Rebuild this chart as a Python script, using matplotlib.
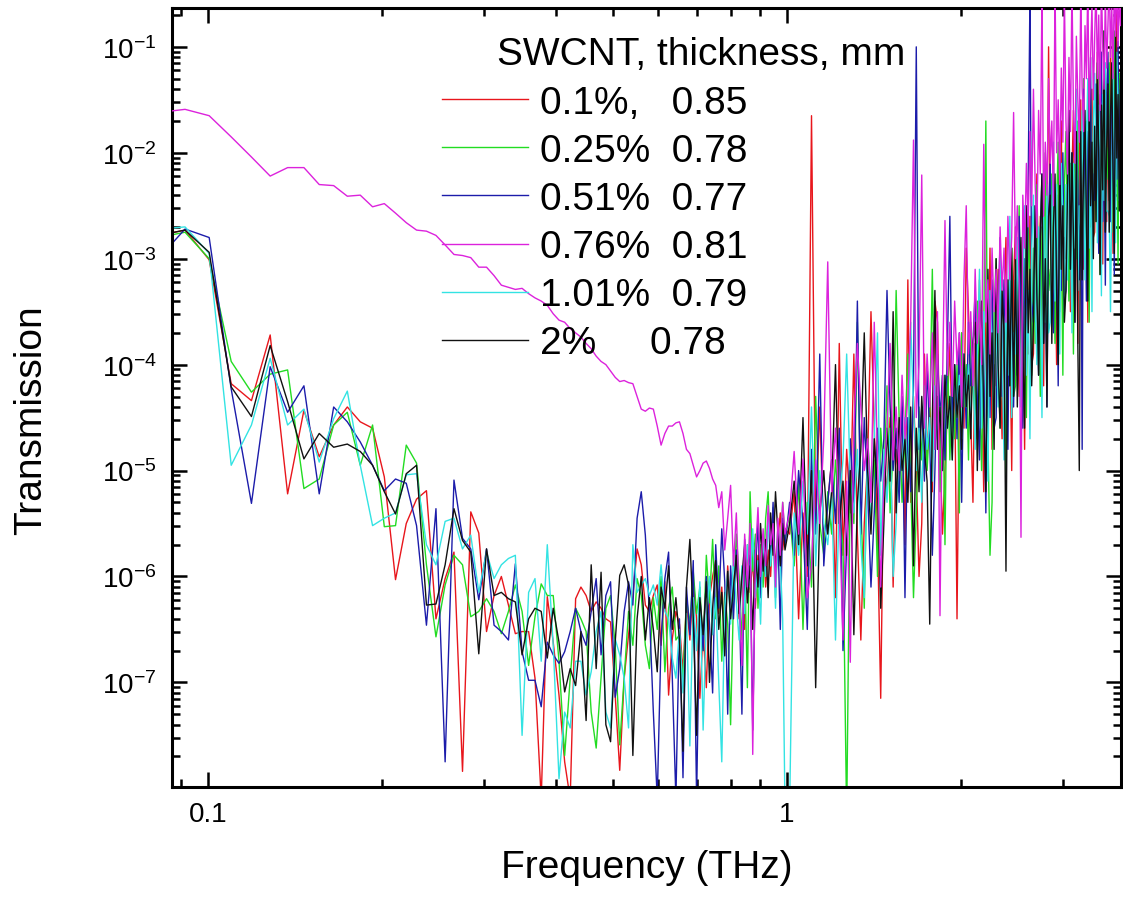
import numpy as np
import matplotlib
matplotlib.use('Agg')
import matplotlib.pyplot as plt
from matplotlib.ticker import (FixedLocator, FixedFormatter, LogLocator,
                               NullFormatter)

plt.rcParams['font.family'] = ['Liberation Sans', 'DejaVu Sans']
plt.rcParams['mathtext.fontset'] = 'custom'
plt.rcParams['mathtext.rm'] = 'Liberation Sans'
plt.rcParams['mathtext.it'] = 'Liberation Sans:italic'
plt.rcParams['mathtext.bf'] = 'Liberation Sans:bold'
plt.rcParams['axes.unicode_minus'] = False

# Spectra are sampled every 0.0092 THz below 1 THz; above 1 THz every
# second sample (0.0184 THz) is kept.
FREQ_LOW_START, FREQ_LOW_STEP = 0.0821, 0.0092
FREQ_HIGH_START, FREQ_HIGH_STEP = 1.0113, 0.0184

labels = ['0.1%,   0.85', '0.25%  0.78', '0.51%  0.77',
          '0.76%  0.81', '1.01%  0.79', '2%     0.78']
colors = ['#e8161c', '#22dc22', '#1c1caa', '#dc22dc', '#33e3e3', '#111111']
y_decades = [-7, -6, -5, -4, -3, -2, -1]

# log10(transmission)
red_low = [
    -2.78, -2.73, -3.01, -4.18, -4.34, -3.72, -5.22, -4.43, -4.87, -4.57,
    -4.40, -4.54, -4.60, -5.06, -6.03, -5.50, -5.27, -5.19, -6.40, -6.02,
    -5.77, -7.84, -5.39, -5.59, -6.52, -6.18, -6.00, -6.27, -6.54, -6.52,
    -6.52, -6.96, -8.10, -6.19, -6.62, -7.12, -7.75, -8.10, -6.21, -6.10,
    -6.18, -6.33, -6.24, -6.30, -6.40, -6.43, -7.12, -7.83, -6.96, -6.55,
    -6.18, -5.74, -5.89, -6.27, -6.33, -6.18, -6.08, -6.65, -6.05, -7.12,
    -6.59, -6.33, -6.45, -6.90, -6.25, -6.60, -6.05, -6.40, -7.15, -6.50,
    -7.05, -6.20, -6.00, -5.85, -6.35, -6.10, -6.55, -5.90, -6.30, -6.15,
    -5.75, -6.40, -5.95, -6.50, -5.70, -6.15, -5.85, -6.30, -5.80, -6.05,
    -5.60, -6.10, -5.75, -6.00, -5.50, -5.90, -5.65, -5.40, -5.75, -5.55]
red_high = [
    -5.6, -5.2, -6.4, -5.4, -6.0, -1.65, -5.5, -4.4, -5.7, -5.3,
    -4.9, -6.2, -3.8, -5.8, -4.8, -5.4, -3.9, -5.6, -6.6, -5.5,
    -4.9, -3.5, -4.6, -5.6, -7.15, -4.9, -5.2, -4.5, -6.1, -4.8,
    -5.1, -4.4, -5.7, -3.2, -5.3, -4.3, -5.0, -6.0, -5.5, -3.9,
    -4.9, -4.3, -5.2, -3.4, -3.6, -4.8, -5.6, -5.0, -4.4, -3.8,
    -4.7, -4.1, -6.4, -4.3, -3.7, -4.6, -2.9, -3.5, -4.5, -5.3,
    -3.8, -4.7, -3.2, -4.1, -5.2, -3.6, -4.4, -2.9, -4.8, -4.0,
    -4.2, -3.1, -3.9, -4.7, -3.4, -2.8, -4.4, -3.6, -5.0, -3.2,
    -2.7, -3.7, -4.3, -3.0, -3.4, -4.8, -2.9, -3.9, -2.6, -4.0,
    -3.9, -3.0, -2.2, -3.7, -2.6, -3.4, -4.2, -2.4, -2.9, -1.0,
    -2.6, -3.5, -2.0, -2.9, -4.0, -2.4, -3.2, -1.7, -3.6, -2.8,
    -3.0, -1.9, -2.7, -3.5, -2.2, -1.6, -3.2, -2.4, -3.8, -2.0,
    -1.5, -2.5, -3.1, -1.8, -2.2, -3.6, -1.7, -2.7, -1.4, -2.8,
    -2.75, -1.85, -1.05, -2.55, -1.45, -2.25, -3.05, -1.25, -1.75, -2.65,
    -1.55, -2.45, -0.95, -1.85, -2.95, -1.35, -2.15, -0.65, -2.55, -1.75,
    -1.2, -1.9]

green_low = [
    -2.80, -2.75, -3.00, -3.97, -4.26, -4.09, -4.05, -5.17, -5.08, -4.57,
    -4.45, -4.95, -4.57, -5.53, -5.52, -4.76, -4.93, -5.89, -6.57, -6.08,
    -5.80, -5.89, -6.38, -6.33, -6.21, -6.33, -6.54, -6.33, -6.08, -6.33,
    -6.84, -6.38, -6.07, -6.18, -6.18, -6.80, -7.69, -6.96, -6.30, -6.40,
    -6.52, -7.28, -7.62, -6.96, -6.30, -6.18, -6.65, -7.59, -6.96, -6.33,
    -6.65, -6.02, -6.18, -6.65, -6.87, -6.20, -6.50, -6.00, -6.90, -6.30,
    -6.10, -6.60, -6.55, -7.00, -6.20, -6.45, -5.95, -6.35, -6.10, -6.70,
    -5.80, -6.25, -5.65, -6.40, -5.90, -6.80, -6.15, -6.45, -7.40, -6.20,
    -5.60, -6.00, -6.60, -5.85, -7.05, -5.20, -5.95, -5.60, -6.30, -5.70,
    -6.10, -5.45, -5.20, -5.90, -5.35, -6.20, -5.50, -5.80, -5.30, -5.65]
green_high = [
    -5.4, -5.9, -5.1, -6.5, -5.3, -6.1, -4.3, -5.5, -5.8, -5.2,
    -5.6, -4.9, -5.4, -5.7, -8.3, -5.0, -5.5, -3.6, -5.3, -6.3,
    -4.7, -5.2, -4.9, -6.0, -4.6, -5.1, -4.2, -5.4, -4.8, -3.3,
    -4.5, -5.3, -4.7, -3.9, -5.1, -6.2, -5.4, -4.4, -4.9, -4.2,
    -5.0, -4.5, -3.1, -4.8, -4.3, -5.2, -4.1, -5.7, -3.8, -4.9,
    -4.2, -4.7, -4.0, -5.4, -3.7, -4.4, -4.0, -4.9, -3.6, -4.2,
    -4.5, -3.4, -4.2, -5.0, -3.7, -1.7, -4.7, -5.8, -5.3, -3.5,
    -3.0, -4.0, -4.6, -3.3, -3.7, -5.1, -3.2, -4.2, -2.9, -4.3,
    -4.2, -3.3, -2.5, -4.0, -2.9, -3.7, -4.5, -2.7, -3.2, -4.1,
    -2.9, -3.8, -2.3, -3.2, -4.3, -2.7, -3.5, -2.0, -3.9, -3.1,
    -3.3, -2.2, -3.0, -3.8, -2.5, -1.9, -3.5, -2.7, -4.1, -2.3,
    -1.8, -2.8, -3.4, -2.1, -2.5, -3.9, -2.0, -3.0, -1.7, -3.1,
    -3.0, -2.1, -1.3, -2.8, -1.7, -2.5, -3.6, -1.5, -2.0, -2.9,
    -1.75, -2.65, -1.15, -2.05, -3.15, -1.55, -2.35, -0.85, -2.75, -1.95,
    -2.25, -1.15, -1.95, -2.75, -1.45, -0.85, -2.45, -1.65, -3.05, -1.25,
    -1.5, -1.1]

blue_low = [
    -3.00, -2.72, -2.80, -4.23, -5.31, -4.02, -4.45, -4.20, -5.22, -4.40,
    -4.54, -4.73, -4.95, -5.19, -5.08, -5.12, -5.52, -6.46, -5.36, -7.75,
    -5.09, -5.64, -5.74, -6.22, -5.74, -6.46, -6.52, -6.60, -5.88, -6.71,
    -6.98, -6.98, -7.23, -6.62, -6.74, -6.82, -6.71, -6.52, -6.30, -6.52,
    -6.65, -6.33, -6.02, -6.74, -6.18, -6.05, -7.14, -6.87, -6.33, -6.05,
    -6.27, -5.45, -5.20, -5.61, -6.33, -7.28, -8.10, -6.59, -6.02, -5.77,
    -6.96, -8.10, -6.40, -7.90, -6.10, -6.55, -5.85, -8.10, -6.20, -6.70,
    -6.00, -6.45, -7.10, -5.70, -6.30, -5.55, -6.05, -7.30, -5.90, -6.40,
    -5.75, -6.20, -7.30, -5.65, -6.10, -5.80, -7.45, -5.95, -5.50, -6.20,
    -5.70, -6.00, -5.40, -5.85, -5.30, -6.10, -5.60, -6.50, -5.45, -5.70]
blue_high = [
    -5.3, -5.8, -5.0, -5.5, -6.5, -4.8, -5.6, -3.9, -5.9, -5.3,
    -4.9, -5.5, -4.6, -6.7, -5.7, -4.7, -5.3, -3.4, -5.6, -4.5,
    -5.2, -6.1, -5.4, -4.6, -5.1, -4.7, -3.3, -4.4, -5.0, -4.6,
    -5.3, -4.3, -6.2, -4.5, -5.2, -4.2, -1.0, -4.8, -4.4, -5.1,
    -4.0, -4.7, -5.8, -5.0, -3.9, -4.5, -4.1, -4.9, -3.8, -2.6,
    -4.6, -4.0, -4.7, -3.7, -5.3, -3.9, -4.6, -3.6, -4.2, -3.8,
    -3.3, -4.3, -4.9, -3.6, -4.0, -5.4, -3.5, -4.5, -3.2, -4.6,
    -4.5, -3.6, -2.8, -4.3, -3.2, -4.0, -4.8, -3.0, -3.5, -4.4,
    -3.2, -4.1, -2.6, -3.5, -4.6, -3.0, -3.8, -2.3, -0.5, -3.4,
    -3.6, -2.5, -3.3, -4.1, -2.8, -2.2, -3.8, -3.0, -4.4, -2.6,
    -2.1, -3.1, -3.7, -2.4, -2.8, -4.2, -2.3, -3.3, -2.0, -3.4,
    -3.3, -2.4, -1.6, -3.1, -2.0, -2.8, -3.6, -1.8, -2.3, -3.2,
    -2.0, -4.8, -1.4, -2.3, -3.4, -1.8, -2.6, -1.1, -3.0, -2.2,
    -2.45, -1.35, -2.15, -2.95, -1.65, -1.05, -2.65, -1.85, -3.25, -1.45,
    -1.05, -2.05, -2.65, -1.35, -1.75, -3.15, -1.25, -2.25, -0.95, -2.35,
    -1.4, -1.9]

magenta_low = [
    -1.62, -1.59, -1.65, -1.85, -2.04, -2.22, -2.14, -2.14, -2.30, -2.31,
    -2.41, -2.40, -2.51, -2.48, -2.57, -2.66, -2.73, -2.74, -2.78, -2.87,
    -2.96, -2.97, -2.99, -3.08, -3.08, -3.16, -3.25, -3.27, -3.29, -3.28,
    -3.33, -3.37, -3.40, -3.44, -3.52, -3.58, -3.60, -3.66, -3.70, -3.74,
    -3.80, -3.85, -3.92, -3.97, -4.00, -4.06, -4.12, -4.16, -4.15, -4.17,
    -4.18, -4.30, -4.42, -4.44, -4.41, -4.42, -4.58, -4.76, -4.65, -4.58,
    -4.58, -4.55, -4.54, -4.65, -4.80, -4.84, -4.95, -5.06, -5.00, -4.93,
    -4.91, -4.98, -5.08, -5.14, -5.35, -5.20, -5.75, -5.45, -5.14, -5.90,
    -5.40, -6.20, -6.84, -5.60, -6.10, -5.50, -7.68, -5.80, -5.35, -6.00,
    -5.55, -5.90, -5.33, -5.70, -5.50, -6.10, -5.45, -5.80, -5.30, -5.60]
magenta_high = [
    -5.4, -4.82, -5.6, -4.89, -6.2, -5.9, -4.9, -5.5, -4.7, -3.03,
    -5.2, -4.6, -5.4, -6.6, -5.1, -6.81, -4.6, -3.8, -4.4, -5.0,
    -4.7, -5.3, -3.6, -4.9, -6.1, -5.1, -4.6, -3.8, -4.9, -4.4,
    -5.0, -4.1, -4.7, -4.3, -3.6, -1.88, -4.5, -4.0, -2.21, -4.6,
    -3.9, -4.4, -3.7, -4.8, -3.5, -6.37, -4.2, -2.64, -4.1, -3.6,
    -4.3, -3.4, -4.0, -3.7, -4.4, -3.2, -2.5, -3.9, -3.5, -4.2,
    -3.1, -3.8, -3.4, -4.0, -1.92, -3.6, -3.2, -3.9, -2.9, -3.5,
    -3.1, -3.7, -2.7, -3.3, -2.9, -3.6, -2.6, -3.2, -2.8, -1.62,
    -3.0, -2.5, -3.2, -5.63, -2.4, -2.9, -2.1, -2.7, -1.8, -2.5,
    -1.4, -2.3, -2.8, -1.6, -2.2, -0.5, -2.6, -1.9, -2.4, -1.3,
    -2.1, -1.7, -2.5, -0.4, -2.0, -1.5, -2.3, -1.2, -1.9, -0.5,
    -1.7, -2.2, -1.1, -1.8, -0.4, -1.6, -2.1, -0.9, -1.5, -1.9,
    -0.5, -1.4, -1.8, -0.8, -1.3, -0.4, -1.7, -1.1, -0.6, -1.5,
    -0.9, -0.4, -1.3, -0.7, -1.6, -0.4, -1.0, -1.4, -0.5, -1.2,
    -0.8, -0.3, -1.1, -0.6, -1.3, -0.4, -0.9, -0.3, -1.0, -0.5,
    -0.8, -0.4]

cyan_low = [
    -2.72, -2.70, -2.95, -4.95, -4.57, -3.94, -4.57, -4.42, -4.92, -4.51,
    -4.25, -4.95, -5.52, -5.45, -5.40, -5.04, -5.03, -5.70, -5.89, -5.48,
    -5.45, -5.74, -5.61, -6.15, -5.77, -6.02, -5.89, -5.83, -5.80, -7.50,
    -6.15, -6.02, -6.80, -5.70, -6.65, -7.91, -7.28, -7.43, -6.80, -6.80,
    -7.12, -6.90, -6.52, -6.33, -7.28, -7.43, -6.59, -6.74, -6.96, -7.43,
    -5.70, -6.15, -6.08, -6.02, -6.18, -6.08, -6.27, -5.89, -6.33, -6.40,
    -6.77, -6.96, -6.50, -7.10, -6.35, -7.60, -6.20, -6.70, -6.05, -7.45,
    -6.40, -6.00, -6.55, -6.20, -7.00, -7.75, -6.30, -5.95, -6.45, -5.80,
    -6.25, -6.60, -5.90, -6.35, -5.70, -6.10, -5.55, -6.20, -5.85, -6.45,
    -5.65, -6.00, -5.45, -5.90, -5.60, -6.30, -5.50, -5.85, -6.40, -8.20]
cyan_high = [
    -8.2, -5.4, -5.8, -5.1, -5.6, -4.4, -5.9, -5.0, -5.5, -5.7,
    -5.2, -6.6, -5.3, -4.9, -3.9, -5.1, -5.4, -4.8, -5.7, -6.2,
    -4.9, -5.5, -4.7, -3.7, -5.8, -4.8, -5.3, -4.6, -6.0, -5.5,
    -4.7, -5.0, -4.5, -5.2, -3.6, -4.4, -5.0, -4.6, -5.3, -4.3,
    -4.8, -4.5, -5.1, -4.2, -4.7, -4.4, -5.0, -4.1, -4.6, -4.3,
    -4.9, -4.0, -4.5, -4.1, -4.7, -3.9, -4.4, -4.0, -4.6, -3.8,
    -4.8, -3.9, -3.1, -4.6, -3.5, -4.3, -5.1, -3.3, -3.8, -4.7,
    -3.5, -4.4, -2.9, -3.8, -4.9, -3.3, -4.1, -2.6, -4.5, -3.7,
    -3.9, -2.8, -3.6, -4.4, -3.1, -2.5, -4.1, -3.3, -4.7, -2.9,
    -2.4, -3.4, -4.0, -2.7, -3.1, -4.5, -2.6, -3.6, -2.3, -3.7,
    -3.6, -2.7, -1.9, -3.4, -2.3, -3.1, -3.9, -2.1, -2.6, -3.5,
    -2.3, -3.2, -1.7, -2.6, -3.7, -2.1, -2.9, -1.4, -3.3, -2.5,
    -2.7, -1.6, -2.4, -3.2, -1.9, -1.3, -2.9, -2.1, -3.5, -1.7,
    -1.25, -2.25, -2.85, -1.55, -1.95, -3.35, -1.45, -2.45, -1.15, -2.55,
    -2.55, -2.6, -3.5, -2.35, -1.25, -2.05, -2.85, -1.05, -1.55, -2.45,
    -2.4, -1.8]

black_low = [
    -2.78, -2.73, -2.94, -4.21, -4.49, -3.82, -4.35, -4.89, -4.65, -4.78,
    -4.75, -4.82, -4.95, -5.20, -5.41, -5.03, -4.95, -6.27, -6.26, -5.89,
    -5.36, -5.66, -5.77, -6.73, -5.74, -6.18, -6.15, -6.21, -6.24, -6.74,
    -6.40, -6.30, -6.33, -6.77, -6.30, -6.62, -7.09, -6.87, -7.03, -6.52,
    -7.36, -5.89, -6.87, -5.96, -7.40, -7.56, -6.62, -5.99, -5.89, -6.08,
    -7.69, -6.40, -6.00, -6.60, -6.20, -6.50, -6.90, -6.10, -6.30, -5.90,
    -6.50, -6.20, -6.60, -7.65, -6.10, -5.65, -6.40, -7.50, -6.20, -6.55,
    -6.05, -7.00, -6.30, -5.85, -6.50, -6.15, -6.75, -5.95, -6.40, -6.10,
    -5.80, -6.35, -6.00, -5.70, -6.25, -5.90, -6.50, -5.75, -6.10, -5.50,
    -5.95, -5.65, -6.20, -5.40, -5.80, -5.20, -5.60, -5.90, -5.50, -5.75]
black_high = [
    -5.5, -5.1, -5.7, -4.5, -5.9, -5.0, -7.05, -5.4, -5.0, -5.6,
    -5.2, -4.0, -5.5, -5.1, -5.8, -5.0, -6.55, -5.3, -4.8, -3.7,
    -5.0, -5.6, -4.7, -5.2, -6.3, -5.5, -4.6, -5.1, -3.5, -5.4,
    -4.5, -5.0, -4.7, -5.3, -4.4, -5.9, -4.6, -5.2, -4.3, -4.8,
    -5.1, -6.45, -4.5, -3.3, -4.8, -4.4, -5.0, -4.1, -4.6, -4.3,
    -4.9, -4.0, -4.5, -4.2, -4.8, -3.9, -4.4, -4.1, -4.7, -3.8,
    -3.6, -5.0, -3.9, -3.4, -4.5, -5.2, -3.1, -4.3, -3.7, -4.8,
    -3.0, -4.0, -4.6, -3.3, -3.7, -5.95, -3.2, -4.2, -2.9, -4.3,
    -3.0, -4.4, -3.3, -2.8, -3.9, -4.6, -2.5, -3.7, -3.1, -4.2,
    -3.6, -2.5, -3.3, -4.1, -2.8, -2.2, -3.8, -3.0, -4.4, -2.6,
    -2.4, -3.8, -2.7, -2.2, -3.3, -4.0, -1.9, -3.1, -2.5, -3.6,
    -3.3, -2.4, -1.6, -3.1, -2.0, -2.8, -3.6, -1.8, -3.8, -5.0,
    -1.8, -3.2, -2.1, -1.6, -2.7, -3.4, -1.3, -2.5, -1.9, -3.0,
    -1.75, -2.65, -1.15, -2.05, -3.15, -1.55, -2.35, -0.85, -2.75, -1.95,
    -1.35, -2.75, -1.65, -1.15, -2.25, -2.95, -0.85, -2.05, -1.45, -2.55,
    -1.3, -1.7]

series = [(red_low, red_high), (green_low, green_high), (blue_low, blue_high),
          (magenta_low, magenta_high), (cyan_low, cyan_high),
          (black_low, black_high)]


def spectrum(low, high):
    f_low = FREQ_LOW_START + FREQ_LOW_STEP * np.arange(len(low))
    f_high = FREQ_HIGH_START + FREQ_HIGH_STEP * np.arange(len(high))
    return np.concatenate([f_low, f_high]), 10.0 ** np.array(low + high)


fig = plt.figure(figsize=(11.23, 9.03), dpi=100)
ax = fig.add_axes([0.1532, 0.1274, 0.8451, 0.8627])

for (low, high), lab, col in zip(series, labels, colors):
    f, t = spectrum(low, high)
    # magenta sits on top of the noisy high-frequency part
    z = 3 if col == '#dc22dc' else 2
    ax.plot(f, t, color=col, lw=1.0, label=lab, zorder=z)

ax.set_xscale('log')
ax.set_yscale('log')
ax.set_xlim(0.0867, 3.78)
ax.set_ylim(1.03e-8, 0.233)

ax.xaxis.set_major_locator(FixedLocator([0.1, 1]))
ax.xaxis.set_major_formatter(FixedFormatter(['0.1', '1']))
ax.xaxis.set_minor_locator(LogLocator(base=10, subs=np.arange(2, 10), numticks=20))
ax.xaxis.set_minor_formatter(NullFormatter())
ax.yaxis.set_major_locator(FixedLocator([10.0 ** d for d in y_decades]))
ax.yaxis.set_major_formatter(FixedFormatter([r'$10^{%d}$' % d for d in y_decades]))
ax.yaxis.set_minor_locator(LogLocator(base=10, subs=np.arange(2, 10), numticks=20))
ax.yaxis.set_minor_formatter(NullFormatter())

ax.tick_params(which='both', direction='in', top=True, right=True, width=1.8)
ax.tick_params(which='major', length=10.5, labelsize=20)
ax.tick_params(which='minor', length=6)
ax.tick_params(axis='y', which='major', pad=11)
ax.tick_params(axis='x', which='major', pad=10)
for s in ax.spines.values():
    s.set_linewidth(2.2)

ax.set_xlabel('Frequency (THz)', fontsize=28)
ax.xaxis.set_label_coords(0.5, -0.079)
ax.set_ylabel('Transmission', fontsize=28)
ax.yaxis.set_label_coords(-0.13, 0.472)

fig.text(497 / 1123, 1 - 55 / 903, 'SWCNT, thickness, mm', fontsize=28,
         ha='left', va='center')
ax.legend(loc='upper left', bbox_to_anchor=(442 / 1123, 1 - 86 / 903),
          bbox_transform=fig.transFigure, frameon=False, fontsize=28,
          handlelength=2.2, handletextpad=0.32, labelspacing=0.31,
          borderpad=0, borderaxespad=0)

fig.savefig('out.png', dpi=100)
